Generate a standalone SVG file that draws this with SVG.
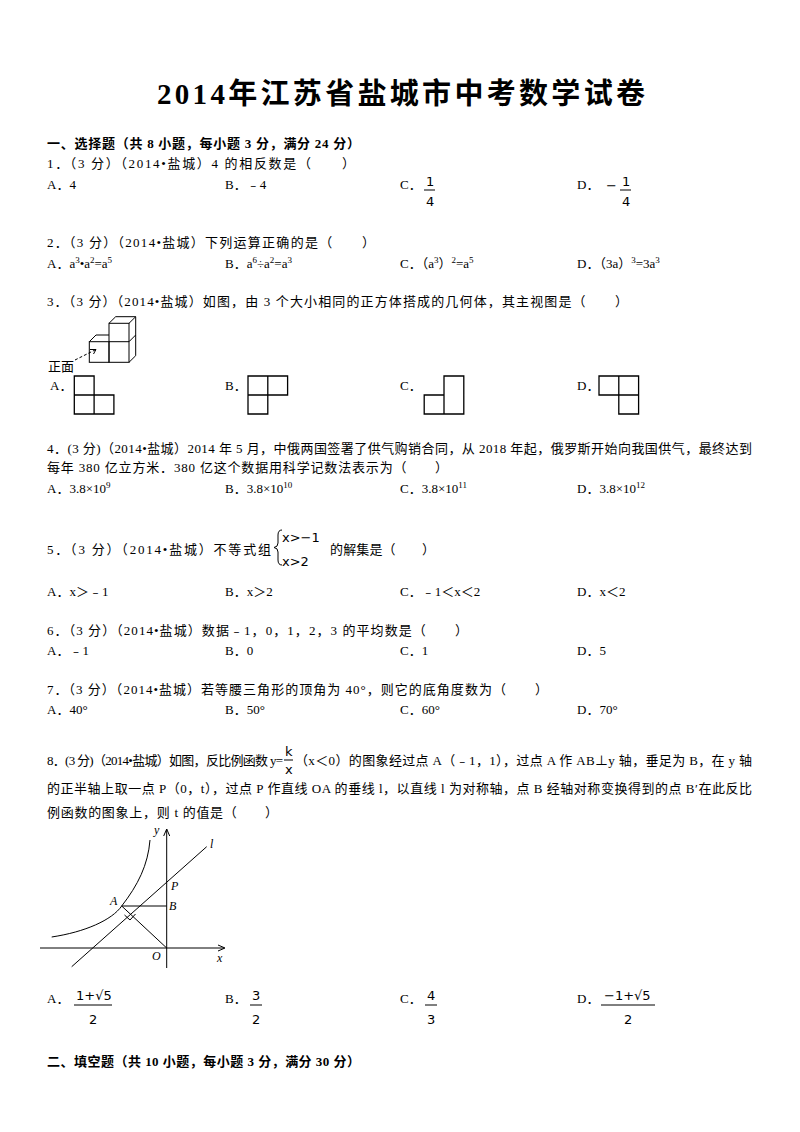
<svg xmlns="http://www.w3.org/2000/svg" width="800" height="1132" viewBox="0 0 800 1132">
<style>
text{font-family:"Liberation Serif","Noto Sans CJK SC",serif;font-size:13px;fill:#000}
.t{font-size:29px;font-weight:bold}
.h{font-weight:bold}
.s{font-size:9px}
.m{font-family:"DejaVu Sans","Noto Sans CJK SC",sans-serif;font-size:13px}
.i{font-style:italic;font-size:12px}
.ln{stroke:#000;stroke-width:1.3;fill:none}
.th{stroke:#000;stroke-width:1;fill:none}
</style>
<rect width="800" height="1132" fill="#fff"/>
<text class="t" x="157" y="104" textLength="488" lengthAdjust="spacing">2014年江苏省盐城市中考数学试卷</text>
<text class="h" x="47" y="148" textLength="313" lengthAdjust="spacing">一、选择题（共 8 小题，每小题 3 分，满分 24 分）</text>

<text x="47" y="168" textLength="308" lengthAdjust="spacing">1．（3 分）（2014•盐城）4 的相反数是（　　）</text>
<text x="47" y="189">A．4</text><text x="225" y="189">B．﹣4</text>
<text x="400" y="189">C．</text><text class="m" x="426" y="186">1</text><line class="th" x1="424" y1="190" x2="435" y2="190"/><text class="m" x="426" y="206">4</text>
<text x="577" y="189">D．</text><text class="m" x="606" y="190">−</text><text class="m" x="622" y="186">1</text><line class="th" x1="620" y1="190" x2="631" y2="190"/><text class="m" x="622" y="206">4</text>

<text x="47" y="247" textLength="328" lengthAdjust="spacing">2．（3 分）（2014•盐城）下列运算正确的是（　　）</text>
<text x="47" y="268">A．a<tspan class="s" dy="-5">3</tspan><tspan dy="5">•a</tspan><tspan class="s" dy="-5">2</tspan><tspan dy="5">=a</tspan><tspan class="s" dy="-5">5</tspan></text>
<text x="225" y="268">B．a<tspan class="s" dy="-5">6</tspan><tspan dy="5">÷a</tspan><tspan class="s" dy="-5">2</tspan><tspan dy="5">=a</tspan><tspan class="s" dy="-5">3</tspan></text>
<text x="400" y="268">C．（a<tspan class="s" dy="-5">3</tspan><tspan dy="5">）</tspan><tspan class="s" dy="-5">2</tspan><tspan dy="5">=a</tspan><tspan class="s" dy="-5">5</tspan></text>
<text x="577" y="268">D．（3a）<tspan class="s" dy="-5">3</tspan><tspan dy="5">=3a</tspan><tspan class="s" dy="-5">3</tspan></text>

<text x="47" y="306" textLength="581" lengthAdjust="spacing">3．（3 分）（2014•盐城）如图，由 3 个大小相同的正方体搭成的几何体，其主视图是（　　）</text>
<g id="cubes" class="th">
<rect x="89.3" y="341.7" width="19.7" height="20.6"/>
<rect x="109" y="323.3" width="20" height="39"/>
<line x1="109" y1="341.7" x2="129" y2="341.7"/>
<polyline points="89.3,341.7 96,335 109,335"/>
<polyline points="109,323.3 115.7,316.7 135.7,316.7 129,323.3"/>
<polyline points="135.7,316.7 135.7,355.7 129,362.3"/>
<line x1="129" y1="341.7" x2="135.7" y2="335"/>
<line x1="75" y1="360" x2="95" y2="350" stroke-dasharray="3,2"/>
<polyline points="90,349.5 96,349.5 93.5,354"/>
</g>
<text x="48" y="371" font-size="13">正面</text>
<g id="opts3" class="ln">
<path d="M74.3,376h19.8v19h19.8v19h-39.6z M74.3,395h39.6 M94.1,395v19"/>
<path d="M248,376h39.6v19h-19.8v19h-19.8z M248,395h19.8 M267.8,376v19"/>
<path d="M444,376h19.8v38h-39.6v-19h19.8z M444,376v38"/>
<path d="M599,376h39.6v38h-19.8v-19h-19.8z M618.8,376v19 M618.8,395h19.8"/>
</g>
<text x="50" y="390">A．</text><text x="225" y="390">B．</text><text x="400" y="390">C．</text><text x="577" y="390">D．</text>

<text x="47" y="453" textLength="705" lengthAdjust="spacing">4．(3 分)（2014•盐城）2014 年 5 月，中俄两国签署了供气购销合同，从 2018 年起，俄罗斯开始向我国供气，最终达到</text>
<text x="47" y="472" textLength="401" lengthAdjust="spacing">每年 380 亿立方米．380 亿这个数据用科学记数法表示为（　　）</text>
<text x="47" y="493">A．3.8×10<tspan class="s" dy="-5">9</tspan></text>
<text x="225" y="493">B．3.8×10<tspan class="s" dy="-5">10</tspan></text>
<text x="400" y="493">C．3.8×10<tspan class="s" dy="-5">11</tspan></text>
<text x="577" y="493">D．3.8×10<tspan class="s" dy="-5">12</tspan></text>

<text x="47" y="554" textLength="224" lengthAdjust="spacing">5．（3 分）（2014•盐城）不等式组</text>
<path class="th" d="M282,530 q-4,0 -4,5 v8 q0,4 -4,4.5 q4,0.5 4,4.5 v8 q0,5 4,5"/>
<text class="m" x="282" y="542">x&gt;−1</text>
<text class="m" x="282" y="566">x&gt;2</text>
<text x="330" y="554" textLength="105" lengthAdjust="spacing">的解集是（　　）</text>
<text x="47" y="596">A．x＞﹣1</text><text x="225" y="596">B．x＞2</text><text x="400" y="596">C．﹣1＜x＜2</text><text x="577" y="596">D．x＜2</text>

<text x="47" y="635" textLength="421" lengthAdjust="spacing">6．（3 分）（2014•盐城）数据﹣1，0，1，2，3 的平均数是（　　）</text>
<text x="47" y="655">A．﹣1</text><text x="225" y="655">B．0</text><text x="400" y="655">C．1</text><text x="577" y="655">D．5</text>

<text x="47" y="694" textLength="501" lengthAdjust="spacing">7．（3 分）（2014•盐城）若等腰三角形的顶角为 40°，则它的底角度数为（　　）</text>
<text x="47" y="714">A．40°</text><text x="225" y="714">B．50°</text><text x="400" y="714">C．60°</text><text x="577" y="714">D．70°</text>

<text x="47" y="765" textLength="236" lengthAdjust="spacing">8．(3 分)（2014•盐城）如图，反比例函数 y=</text>
<text class="m" x="285" y="756" font-size="12">k</text><line class="th" x1="284" y1="760" x2="293" y2="760"/><text class="m" x="285" y="774" font-size="12">x</text>
<text x="295" y="765" textLength="457" lengthAdjust="spacing">（x＜0）的图象经过点 A（﹣1，1），过点 A 作 AB⊥y 轴，垂足为 B，在 y 轴</text>
<text x="47" y="793" textLength="705" lengthAdjust="spacing">的正半轴上取一点 P（0，t），过点 P 作直线 OA 的垂线 l，以直线 l 为对称轴，点 B 经轴对称变换得到的点 B′在此反比</text>
<text x="47" y="817" textLength="231" lengthAdjust="spacing">例函数的图象上，则 t 的值是（　　）</text>

<g id="graph" class="th">
<line x1="40" y1="948" x2="224" y2="948"/>
<polyline points="218,945 225,948 218,951"/>
<line x1="166.7" y1="968" x2="166.7" y2="829"/>
<polyline points="163.7,836 166.7,829 169.7,836"/>
<path d="M51.7,937 C85,932 112,920 121.7,906 C138,885 148,865 150,840"/>
<line x1="71.7" y1="966.7" x2="206.7" y2="846.7"/>
<line x1="121.7" y1="906" x2="166.7" y2="906"/>
<line x1="121.7" y1="906" x2="166.7" y2="948"/>
<polyline points="124.5,915 130,920 135.5,914"/>
</g>
<text class="i" x="154" y="834">y</text>
<text class="i" x="210" y="848">l</text>
<text class="i" x="171" y="890">P</text>
<text class="i" x="110" y="905">A</text>
<text class="i" x="169" y="910">B</text>
<text class="i" x="152" y="960">O</text>
<text class="i" x="217" y="962">x</text>

<text x="47" y="1003">A．</text>
<text class="m" x="76" y="1000">1+√5</text><line class="th" x1="74" y1="1005" x2="112" y2="1005"/><text class="m" x="89" y="1024">2</text>
<text x="225" y="1003">B．</text>
<text class="m" x="252" y="1000">3</text><line class="th" x1="250" y1="1005" x2="262" y2="1005"/><text class="m" x="252" y="1024">2</text>
<text x="400" y="1003">C．</text>
<text class="m" x="427" y="1000">4</text><line class="th" x1="425" y1="1005" x2="437" y2="1005"/><text class="m" x="427" y="1024">3</text>
<text x="577" y="1003">D．</text>
<text class="m" x="604" y="1000">−1+√5</text><line class="th" x1="601" y1="1005" x2="655" y2="1005"/><text class="m" x="624" y="1024">2</text>

<text class="h" x="47" y="1066" textLength="313" lengthAdjust="spacing">二、填空题（共 10 小题，每小题 3 分，满分 30 分）</text>
</svg>
